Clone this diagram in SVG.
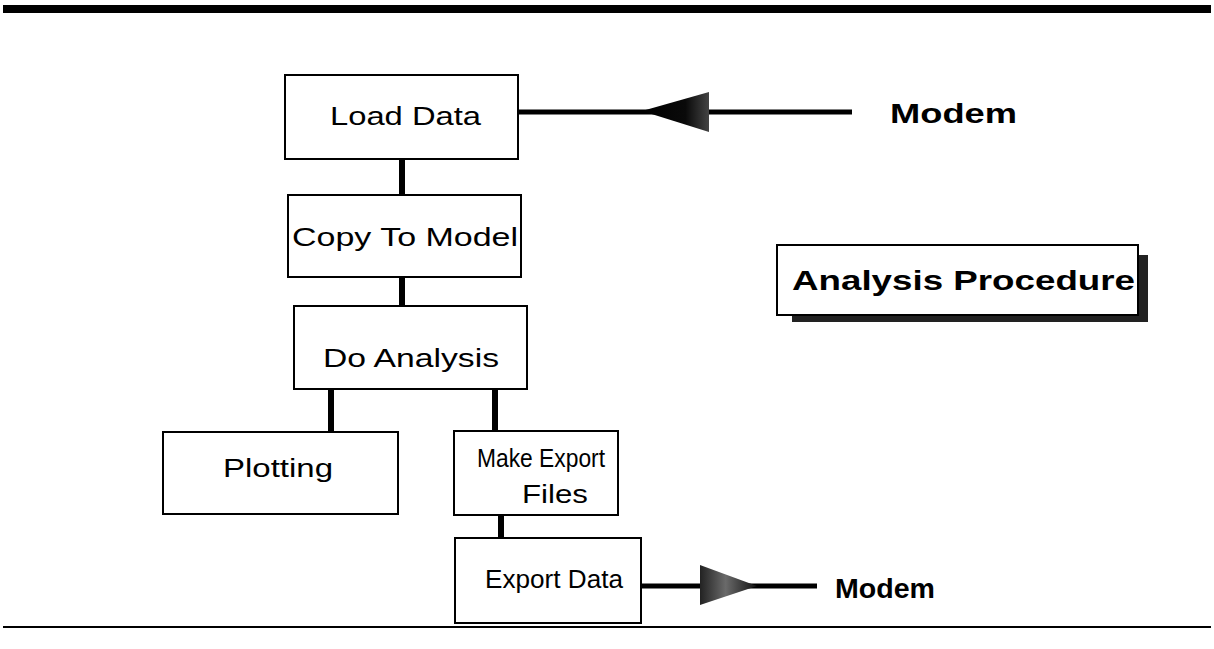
<svg xmlns="http://www.w3.org/2000/svg" width="1214" height="649" viewBox="0 0 1214 649">
<style>
.box{fill:#fff;stroke:#000;stroke-width:2}
.lbl{font-family:"Liberation Sans",Arial,sans-serif;font-size:26px;fill:#000}
.bold{font-family:"Liberation Sans",Arial,sans-serif;font-size:27px;font-weight:bold;fill:#000}
.conn{stroke:#000;stroke-width:6;fill:none}
.hline{stroke:#000;stroke-width:5;fill:none}
</style>
<defs>
<linearGradient id="gL" x1="0" y1="0" x2="1" y2="0">
<stop offset="0" stop-color="#000"/><stop offset="0.65" stop-color="#0a0a0a"/><stop offset="1" stop-color="#444"/>
</linearGradient>
<linearGradient id="gR" x1="0" y1="0" x2="1" y2="0">
<stop offset="0" stop-color="#222"/><stop offset="0.45" stop-color="#6a6a6a"/><stop offset="1" stop-color="#111"/>
</linearGradient>
</defs>
<rect x="0" y="0" width="1214" height="649" fill="#fff"/>
<rect x="3" y="5" width="1208" height="8" fill="#000"/>
<rect x="3" y="626" width="1208" height="2" fill="#000"/>

<g id="connectors">
<line class="conn" x1="402" y1="159" x2="402" y2="196"/>
<line class="conn" x1="402" y1="277" x2="402" y2="306"/>
<line class="conn" x1="331" y1="389" x2="331" y2="432"/>
<line class="conn" x1="495" y1="389" x2="495" y2="432"/>
<line class="conn" x1="501" y1="515" x2="501" y2="539"/>
<line class="hline" x1="518" y1="112" x2="852" y2="112"/>
<polygon points="642,111 709,92 709,132" fill="url(#gL)"/>
<line class="hline" x1="641" y1="586" x2="817" y2="586"/>
<polygon points="757,586 700,565 700,605" fill="url(#gR)"/>
</g>

<g id="load-data">
<rect class="box" x="285" y="75" width="233" height="84"/>
<text class="lbl" x="330" y="125" textLength="151" lengthAdjust="spacingAndGlyphs">Load Data</text>
</g>
<g id="copy-to-model">
<rect class="box" x="288" y="195" width="233" height="82"/>
<text class="lbl" x="292" y="246" textLength="226" lengthAdjust="spacingAndGlyphs">Copy To Model</text>
</g>
<g id="do-analysis">
<rect class="box" x="294" y="306" width="233" height="83"/>
<text class="lbl" x="323" y="367" textLength="176" lengthAdjust="spacingAndGlyphs">Do Analysis</text>
</g>
<g id="plotting">
<rect class="box" x="163" y="432" width="235" height="82"/>
<text class="lbl" x="223" y="477" textLength="110" lengthAdjust="spacingAndGlyphs">Plotting</text>
</g>
<g id="make-export-files">
<rect class="box" x="454" y="431" width="164" height="84"/>
<text class="lbl" x="477" y="467" textLength="128" lengthAdjust="spacingAndGlyphs" style="font-size:25px">Make Export</text>
<text class="lbl" x="522" y="503" textLength="66" lengthAdjust="spacingAndGlyphs" style="font-size:25px">Files</text>
</g>
<g id="export-data">
<rect class="box" x="455" y="538" width="186" height="85"/>
<text class="lbl" x="485" y="588" textLength="138" lengthAdjust="spacingAndGlyphs" style="font-size:25px">Export Data</text>
</g>
<g id="modem-top">
<text class="bold" x="890" y="123" textLength="127" lengthAdjust="spacingAndGlyphs">Modem</text>
</g>
<g id="modem-bottom">
<text class="bold" x="835" y="598" textLength="100" lengthAdjust="spacingAndGlyphs">Modem</text>
</g>
<g id="analysis-procedure">
<polygon points="792,315 1138,315 1138,255 1148,255 1148,322 792,322" fill="#222"/>
<rect class="box" x="777" y="245" width="361" height="70"/>
<text class="bold" x="792" y="290" textLength="343" lengthAdjust="spacingAndGlyphs" style="font-size:28px">Analysis Procedure</text>
</g>
</svg>
